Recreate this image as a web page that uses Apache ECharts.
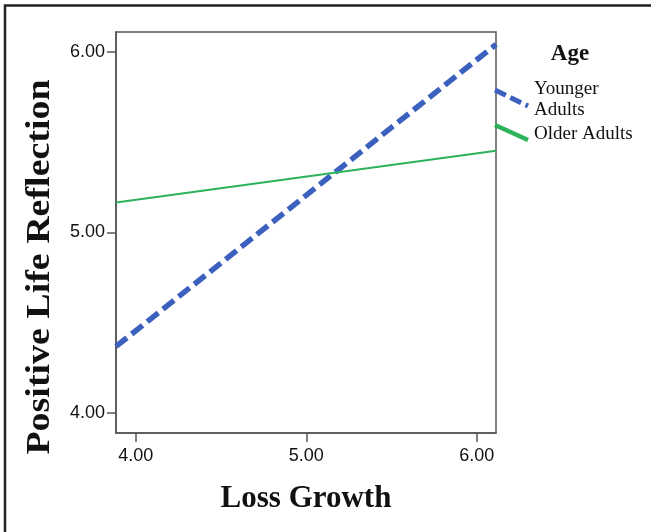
<!DOCTYPE html>
<html>
<head>
<meta charset="utf-8">
<script src="https://cdn.jsdelivr.net/npm/echarts@6/dist/echarts.min.js"></script>
<style>
html,body{margin:0;padding:0;background:#fff;}
#chart{width:651px;height:532px;}
</style>
</head>
<body>
<div id="chart"></div>
<script>
// Data
const lossGrowth = [3.884, 6.113];
const youngerAdults = [4.368, 6.043];
const olderAdults = [5.166, 5.453];
const xTickValues = [4, 5, 6];
const yTickValues = [4, 5, 6];
const seriesNames = ['Younger Adults', 'Older Adults'];
const legendTitle = 'Age';
const xTitle = 'Loss Growth';
const yTitle = 'Positive Life Reflection';

const blue = '#3b60be';
const green = '#2db35b';
const axisColor = '#555';

const chart = echarts.init(document.getElementById('chart'));
const fmt = v => Number(v).toFixed(2);

chart.setOption({
  animation: false,
  backgroundColor: '#fff',
  grid: {left: 116, right: 155, top: 32, bottom: 99, show: true, borderColor: axisColor, borderWidth: 1.5, backgroundColor: 'transparent'},
  xAxis: {
    type: 'value', min: 3.884, max: 6.113,
    axisLine: {show: true, onZero: false, lineStyle: {color: axisColor, width: 1.5}},
    axisTick: {show: true, length: 9, customValues: xTickValues, lineStyle: {color: axisColor, width: 1.5}},
    axisLabel: {customValues: xTickValues, formatter: fmt, fontFamily: 'Liberation Sans', fontSize: 18, color: '#111', margin: 14},
    splitLine: {show: false},
    name: xTitle, nameLocation: 'middle', nameGap: 50,
    nameTextStyle: {fontFamily: 'Liberation Serif', fontWeight: 'bold', fontSize: 31, color: '#111'}
  },
  yAxis: {
    type: 'value', min: 3.888, max: 6.112,
    axisLine: {show: true, onZero: false, lineStyle: {color: axisColor, width: 1.5}},
    axisTick: {show: true, length: 9, customValues: yTickValues, lineStyle: {color: axisColor, width: 1.5}},
    axisLabel: {customValues: yTickValues, formatter: fmt, fontFamily: 'Liberation Sans', fontSize: 18, color: '#111', margin: 11},
    splitLine: {show: false}
  },
  series: [
    {name: seriesNames[0], type: 'line', data: lossGrowth.map((x, i) => [x, youngerAdults[i]]),
     showSymbol: false, symbol: 'none', lineStyle: {color: blue, width: 5.5, type: [14, 6], cap: 'butt'}},
    {name: seriesNames[1], type: 'line', data: lossGrowth.map((x, i) => [x, olderAdults[i]]),
     showSymbol: false, symbol: 'none', lineStyle: {color: green, width: 2}}
  ],
  graphic: [
    {type: 'polyline', shape: {points: [[5, 540], [5, 5.5], [660, 5.5]]}, style: {stroke: '#222', lineWidth: 2.5, fill: null}, silent: true},
    {type: 'text', x: 40, y: 267, rotation: Math.PI / 2, scaleX: 1.15,
     style: {text: yTitle, fontFamily: 'Liberation Serif', fontWeight: 'bold', fontSize: 33, fill: '#111', align: 'center', verticalAlign: 'middle'}},
    {type: 'text', x: 570, y: 54.5, style: {text: legendTitle, fontFamily: 'Liberation Serif', fontWeight: 'bold', fontSize: 23, fill: '#111', align: 'center', verticalAlign: 'middle'}},
    {type: 'line', shape: {x1: 495, y1: 90, x2: 528, y2: 106}, style: {stroke: blue, lineWidth: 5, lineDash: [12, 5]}},
    {type: 'line', shape: {x1: 495, y1: 125, x2: 528, y2: 140}, style: {stroke: green, lineWidth: 4.5}},
    {type: 'text', x: 534, y: 88.7, style: {text: 'Younger', fontFamily: 'Liberation Serif', fontSize: 19, fill: '#111', align: 'left', verticalAlign: 'middle'}},
    {type: 'text', x: 534, y: 110, style: {text: 'Adults', fontFamily: 'Liberation Serif', fontSize: 19, fill: '#111', align: 'left', verticalAlign: 'middle'}},
    {type: 'text', x: 534, y: 133.7, style: {text: 'Older Adults', fontFamily: 'Liberation Serif', fontSize: 19, fill: '#111', align: 'left', verticalAlign: 'middle'}}
  ]
});
</script>
</body>
</html>
